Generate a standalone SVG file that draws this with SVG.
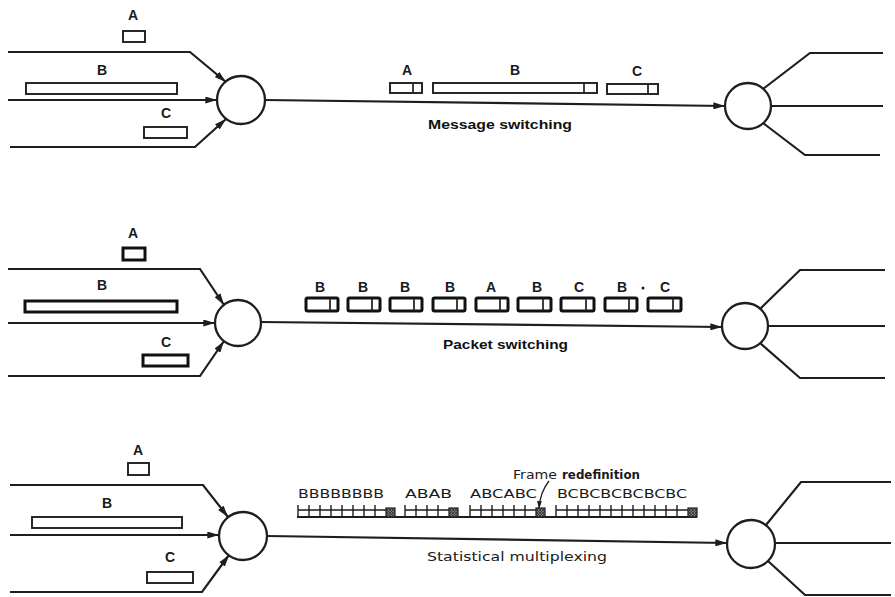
<svg xmlns="http://www.w3.org/2000/svg" width="895" height="597" viewBox="0 0 895 597">
<style>
.ln{fill:none;stroke:#1e1e1e;stroke-width:2.2}
.sw{fill:#fff;stroke:#1e1e1e;stroke-width:2.3}
.bx{fill:#fff;stroke:#1e1e1e;stroke-width:1.9}
.pk{fill:#fff;stroke:#111;stroke-width:3}
.dv{stroke:#1e1e1e;stroke-width:1.7}
.lb{font-family:"Liberation Sans",Arial,sans-serif;font-weight:bold;font-size:14px;fill:#1a1a1a;text-anchor:middle}
.cap{font-family:"Liberation Sans",Arial,sans-serif;font-weight:bold;font-size:13px;fill:#111}
.reg{font-family:"DejaVu Sans","Liberation Sans",sans-serif;font-size:13px;fill:#1a1a1a}
.cell{fill:none;stroke:#1e1e1e;stroke-width:1.4}
.sh{fill:url(#hatch);stroke:#1e1e1e;stroke-width:1.2}
</style>
<defs>
<marker id="ah" viewBox="0 0 10 6" refX="10" refY="3" markerWidth="12" markerHeight="7" orient="auto" markerUnits="userSpaceOnUse"><path d="M0,0 L10,3 L0,6 z" fill="#1e1e1e"/></marker>
<marker id="ah2" viewBox="0 0 10 6" refX="10" refY="3" markerWidth="8" markerHeight="5" orient="auto" markerUnits="userSpaceOnUse"><path d="M0,0 L10,3 L0,6 z" fill="#1e1e1e"/></marker>
<pattern id="hatch" width="3" height="3" patternUnits="userSpaceOnUse"><rect width="3" height="3" fill="#777"/><path d="M0,0 L3,3 M3,0 L0,3" stroke="#333" stroke-width="0.8"/></pattern>
</defs>

<g id="connectors">
<path class="ln" d="M8,52 H190 L226,82" marker-end="url(#ah)"/>
<path class="ln" d="M8,100 H217" marker-end="url(#ah)"/>
<path class="ln" d="M10,147 H195 L226,119" marker-end="url(#ah)"/>
<path class="ln" d="M265,100 L725,106" marker-end="url(#ah)"/>
<path class="ln" d="M763,89 L810,53 H883"/>
<path class="ln" d="M771,106 H883"/>
<path class="ln" d="M763,123 L805,155 H880"/>
<path class="ln" d="M8,269 H200 L224,305" marker-end="url(#ah)"/>
<path class="ln" d="M8,323 H215" marker-end="url(#ah)"/>
<path class="ln" d="M8,376 H200 L224,341" marker-end="url(#ah)"/>
<path class="ln" d="M261,322 L722,327" marker-end="url(#ah)"/>
<path class="ln" d="M760,309 L800,270 H885"/>
<path class="ln" d="M768,326 H885"/>
<path class="ln" d="M760,343 L800,378 H885"/>
<path class="ln" d="M10,485 H203 L228,517" marker-end="url(#ah)"/>
<path class="ln" d="M10,535 H219" marker-end="url(#ah)"/>
<path class="ln" d="M10,592 H202 L229,555" marker-end="url(#ah)"/>
<path class="ln" d="M267,536 L727,543" marker-end="url(#ah)"/>
<path class="ln" d="M766,525 L801,482 H891"/>
<path class="ln" d="M775,543 H891"/>
<path class="ln" d="M768,561 L805,595 H891"/>
<path d="M549,481 Q540,492 539,509" fill="none" stroke="#1e1e1e" stroke-width="1.3" marker-end="url(#ah2)"/>
</g>

<g id="switch-1-in"><circle class="sw" cx="241" cy="100" r="24"/></g>
<g id="switch-1-out"><circle class="sw" cx="748" cy="106" r="23"/></g>
<g id="switch-2-in"><circle class="sw" cx="238" cy="323" r="23"/></g>
<g id="switch-2-out"><circle class="sw" cx="745" cy="326" r="23"/></g>
<g id="switch-3-in"><circle class="sw" cx="243" cy="536" r="24"/></g>
<g id="switch-3-out"><circle class="sw" cx="751" cy="544" r="24"/></g>

<g id="msg-src-A"><text class="lb" x="133" y="20">A</text><rect class="bx" x="123" y="31" width="22" height="11"/></g>
<g id="msg-src-B"><text class="lb" x="102" y="75">B</text><rect class="bx" x="26" y="83" width="151" height="11"/></g>
<g id="msg-src-C"><text class="lb" x="166" y="118">C</text><rect class="bx" x="144" y="127" width="43" height="11"/></g>
<g id="msg-A"><text class="lb" x="407" y="75">A</text><rect class="bx" x="390" y="83" width="32" height="10"/><line class="dv" x1="413" y1="83" x2="413" y2="93"/></g>
<g id="msg-B"><text class="lb" x="515" y="75">B</text><rect class="bx" x="433" y="83" width="164" height="10"/><line class="dv" x1="584" y1="83" x2="584" y2="93"/></g>
<g id="msg-C"><text class="lb" x="637" y="76">C</text><rect class="bx" x="607" y="84" width="51" height="10"/><line class="dv" x1="648" y1="84" x2="648" y2="94"/></g>
<text class="cap" x="428" y="129" textLength="144" lengthAdjust="spacingAndGlyphs">Message switching</text>

<g id="pkt-src-A"><text class="lb" x="133" y="238">A</text><rect class="pk" x="123" y="248" width="22" height="12"/></g>
<g id="pkt-src-B"><text class="lb" x="102" y="290">B</text><rect class="pk" x="25" y="301" width="152" height="11"/></g>
<g id="pkt-src-C"><text class="lb" x="166" y="347">C</text><rect class="pk" x="143" y="355" width="45" height="11"/></g>
<g id="packets">
<g id="p1"><text class="lb" x="320" y="292">B</text><rect class="pk" x="306" y="298" width="32" height="13" rx="1.5"/><line class="dv" x1="330" y1="298" x2="330" y2="311"/></g>
<g id="p2"><text class="lb" x="363" y="292">B</text><rect class="pk" x="348" y="298" width="32" height="13" rx="1.5"/><line class="dv" x1="372" y1="298" x2="372" y2="311"/></g>
<g id="p3"><text class="lb" x="405" y="292">B</text><rect class="pk" x="390" y="298" width="32" height="13" rx="1.5"/><line class="dv" x1="414" y1="298" x2="414" y2="311"/></g>
<g id="p4"><text class="lb" x="450" y="292">B</text><rect class="pk" x="433" y="298" width="32" height="13" rx="1.5"/><line class="dv" x1="457" y1="298" x2="457" y2="311"/></g>
<g id="p5"><text class="lb" x="491" y="292">A</text><rect class="pk" x="476" y="298" width="32" height="13" rx="1.5"/><line class="dv" x1="500" y1="298" x2="500" y2="311"/></g>
<g id="p6"><text class="lb" x="537" y="292">B</text><rect class="pk" x="518" y="298" width="33" height="13" rx="1.5"/><line class="dv" x1="543" y1="298" x2="543" y2="311"/></g>
<g id="p7"><text class="lb" x="579" y="292">C</text><rect class="pk" x="561" y="298" width="33" height="13" rx="1.5"/><line class="dv" x1="586" y1="298" x2="586" y2="311"/></g>
<g id="p8"><text class="lb" x="622" y="292">B</text><rect class="pk" x="605" y="298" width="32" height="13" rx="1.5"/><line class="dv" x1="629" y1="298" x2="629" y2="311"/></g>
<circle cx="643" cy="288" r="1.5" fill="#1a1a1a"/>
<g id="p9"><text class="lb" x="665" y="292">C</text><rect class="pk" x="648" y="298" width="33" height="13" rx="1.5"/><line class="dv" x1="673" y1="298" x2="673" y2="311"/></g>
</g>
<text class="cap" x="443" y="349" font-size="14" textLength="125" lengthAdjust="spacingAndGlyphs">Packet switching</text>

<g id="stat-src-A"><text class="lb" x="138" y="455">A</text><rect class="bx" x="128" y="463" width="21" height="12"/></g>
<g id="stat-src-B"><text class="lb" x="107" y="508">B</text><rect class="bx" x="32" y="517" width="150" height="11"/></g>
<g id="stat-src-C"><text class="lb" x="170" y="562">C</text><rect class="bx" x="147" y="572" width="46" height="11"/></g>

<g id="frames">
<text class="reg" x="298" y="498" font-size="14" textLength="86" lengthAdjust="spacingAndGlyphs">BBBBBBBB</text>
<text class="reg" x="405" y="498" font-size="14" textLength="47" lengthAdjust="spacingAndGlyphs">ABAB</text>
<text class="reg" x="470" y="498" font-size="14" textLength="67" lengthAdjust="spacingAndGlyphs">ABCABC</text>
<text class="reg" x="557" y="498" font-size="14" textLength="130" lengthAdjust="spacingAndGlyphs">BCBCBCBCBCBC</text>
<text class="reg" x="513" y="479" font-size="14" textLength="44" lengthAdjust="spacingAndGlyphs">Frame</text>
<text class="reg" x="562" y="479" font-size="14" font-weight="bold" textLength="78" lengthAdjust="spacingAndGlyphs">redefinition</text>
<line x1="297" y1="517" x2="697" y2="517" stroke="#1e1e1e" stroke-width="1.8"/>
<path class="cell" d="M298,510 H386 M298,505 V517 M309,505 V517 M320,505 V517 M331,505 V517 M342,505 V517 M353,505 V517 M364,505 V517 M375,505 V517"/>
<rect class="sh" x="386" y="508" width="9" height="9"/>
<path class="cell" d="M405,510 H449 M405,505 V517 M416,505 V517 M427,505 V517 M438,505 V517"/>
<rect class="sh" x="449" y="508" width="9" height="9"/>
<path class="cell" d="M470,510 H536 M470,505 V517 M481,505 V517 M492,505 V517 M503,505 V517 M514,505 V517 M525,505 V517"/>
<rect class="sh" x="536" y="508" width="9" height="9"/>
<path class="cell" d="M556,510 H688 M556,505 V517 M567,505 V517 M578,505 V517 M589,505 V517 M600,505 V517 M611,505 V517 M622,505 V517 M633,505 V517 M644,505 V517 M655,505 V517 M666,505 V517 M677,505 V517"/>
<rect class="sh" x="688" y="508" width="9" height="9"/>
</g>
<text class="reg" x="427" y="561" font-size="14" textLength="180" lengthAdjust="spacingAndGlyphs">Statistical multiplexing</text>
</svg>
